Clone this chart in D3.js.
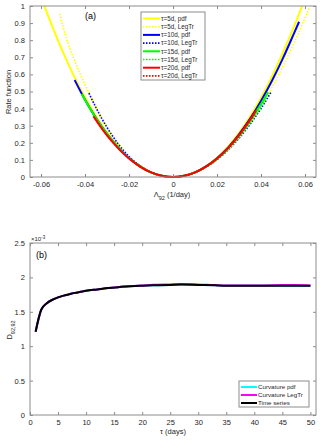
<!DOCTYPE html>
<html><head><meta charset="utf-8">
<script src="https://cdn.jsdelivr.net/npm/d3@7"></script>
<style>body{margin:0;background:#fff} svg{display:block} text{font-family:"Liberation Sans",Arial,sans-serif}</style>
</head><body><svg id="c" width="320" height="440"></svg>
<script>
// ---------- DATA: panel (a) ----------
const lamTicks = [-0.06,-0.04,-0.02,0,0.02,0.04,0.06];
const rateTicks = [0,0.1,0.2,0.3,0.4,0.5,0.6,0.7,0.8,0.9,1];
const legendA = ["τ=5d, pdf","τ=5d, LegTr","τ=10d, pdf","τ=10d, LegTr","τ=15d, pdf","τ=15d, LegTr","τ=20d, pdf","τ=20d, LegTr"];
const coloursA = ["#ffff00","#ffff00","#0000ff","#0000ff","#00ff00","#00ff00","#ff0000","#ff0000"];

const tau5pdf = [[-0.0585,1.0],[-0.055,0.885],[-0.05,0.73],[-0.045,0.59],[-0.04,0.465],[-0.035,0.355],[-0.03,0.26],[-0.025,0.18],[-0.02,0.114],[-0.015,0.064],[-0.01,0.028],[-0.005,0.007],[0,0],[0.005,0.007],[0.01,0.028],[0.015,0.064],[0.02,0.113],[0.025,0.178],[0.03,0.258],[0.035,0.352],[0.04,0.462],[0.045,0.588],[0.05,0.728],[0.055,0.88],[0.0587,1.0]];
const tau5leg = [[-0.0515,0.955],[-0.05,0.88],[-0.045,0.69],[-0.04,0.54],[-0.035,0.41],[-0.03,0.29],[-0.025,0.195],[-0.02,0.12],[-0.015,0.066],[-0.01,0.028],[-0.005,0.007],[0,0],[0.005,0.007],[0.01,0.027],[0.015,0.059],[0.02,0.104],[0.025,0.163],[0.03,0.234],[0.035,0.318],[0.04,0.415],[0.045,0.525],[0.05,0.648],[0.055,0.783],[0.06,0.93],[0.062,0.99]];
const tau10pdf = [[-0.0447,0.567],[-0.04,0.452],[-0.035,0.345],[-0.03,0.253],[-0.025,0.175],[-0.02,0.111],[-0.015,0.062],[-0.01,0.027],[-0.005,0.007],[0,0],[0.005,0.007],[0.01,0.027],[0.015,0.062],[0.02,0.11],[0.025,0.172],[0.03,0.25],[0.035,0.34],[0.04,0.445],[0.045,0.563],[0.05,0.695],[0.055,0.84],[0.0573,0.908]];
const tau10leg = [[-0.0382,0.49],[-0.035,0.405],[-0.03,0.29],[-0.025,0.195],[-0.02,0.12],[-0.015,0.066],[-0.01,0.028],[-0.005,0.007],[0,0],[0.005,0.006],[0.01,0.026],[0.015,0.058],[0.02,0.102],[0.025,0.158],[0.03,0.227],[0.035,0.308],[0.04,0.4],[0.0445,0.495]];
const tau15pdf = [[-0.0415,0.485],[-0.035,0.343],[-0.03,0.252],[-0.025,0.174],[-0.02,0.111],[-0.015,0.062],[-0.01,0.027],[-0.005,0.007],[0,0],[0.005,0.007],[0.01,0.027],[0.015,0.06],[0.02,0.106],[0.025,0.166],[0.03,0.24],[0.035,0.326],[0.04,0.425],[0.0432,0.495]];
const tau15leg = [[-0.0405,0.465],[-0.035,0.345],[-0.03,0.252],[-0.025,0.174],[-0.02,0.11],[-0.015,0.062],[-0.01,0.027],[-0.005,0.007],[0,0],[0.005,0.006],[0.01,0.026],[0.015,0.058],[0.02,0.103],[0.025,0.16],[0.03,0.231],[0.035,0.314],[0.04,0.41],[0.0425,0.462]];
const tau20pdf = [[-0.0362,0.355],[-0.035,0.332],[-0.03,0.243],[-0.025,0.169],[-0.02,0.108],[-0.015,0.061],[-0.01,0.027],[-0.005,0.007],[0,0],[0.005,0.007],[0.01,0.027],[0.015,0.061],[0.02,0.108],[0.025,0.169],[0.03,0.245],[0.035,0.335],[0.0378,0.39]];
const tau20leg = [[-0.0355,0.345],[-0.03,0.245],[-0.025,0.17],[-0.02,0.109],[-0.015,0.061],[-0.01,0.027],[-0.005,0.007],[0,0],[0.005,0.007],[0.01,0.027],[0.015,0.06],[0.02,0.106],[0.025,0.166],[0.03,0.24],[0.035,0.328],[0.0372,0.37]];
const seriesA = [tau5pdf,tau5leg,tau10pdf,tau10leg,tau15pdf,tau15leg,tau20pdf,tau20leg];

// ---------- DATA: panel (b) ----------
const tauTicks = [0,5,10,15,20,25,30,35,40,45,50];
const dTicks = [0,0.5,1,1.5,2,2.5];
const legendB = ["Curvature pdf","Curvature LegTr","Time series"];
const coloursB = ["#00ffff","#ff00ff","#000000"];
const tauVals = [1,2,3,4,5,6,7,8,9,10,12,14,16,18,20,22,25,27,30,33,35,38,40,42,45,47,50];
const curvPdf = [1.21,1.53,1.625,1.675,1.71,1.735,1.755,1.775,1.79,1.805,1.825,1.845,1.86,1.873,1.88,1.885,1.89,1.895,1.89,1.885,1.88,1.88,1.88,1.88,1.88,1.88,1.88];
const curvLeg = [1.21,1.53,1.625,1.675,1.71,1.735,1.755,1.775,1.79,1.805,1.825,1.845,1.862,1.876,1.883,1.892,1.898,1.903,1.898,1.888,1.884,1.883,1.882,1.884,1.888,1.889,1.884];
const timeSeries = [1.21,1.53,1.625,1.675,1.71,1.735,1.755,1.775,1.79,1.805,1.825,1.845,1.86,1.873,1.88,1.885,1.89,1.895,1.89,1.885,1.88,1.88,1.88,1.88,1.88,1.88,1.88];
const seriesB = [curvPdf,curvLeg,timeSeries];

// ---------- DRAW ----------
const svg = d3.select("#c");
const axisCol = "#8c8c8c", txtCol = "#262626";
const fmt = d => String(Math.round(d*1000)/1000);

function frame(x, y, xt, yt){
  const g = svg.append("g");
  const [x0,x1] = x.range(), [y0,y1] = y.range();
  g.append("g").attr("transform",`translate(0,${y0})`)
    .call(d3.axisBottom(x).tickValues(xt).tickSize(-3).tickPadding(5).tickFormat(fmt));
  g.append("g").attr("transform",`translate(0,${y1})`)
    .call(d3.axisTop(x).tickValues(xt).tickSize(-3).tickFormat(""));
  g.append("g").attr("transform",`translate(${x0},0)`)
    .call(d3.axisLeft(y).tickValues(yt).tickSize(-3).tickPadding(5).tickFormat(fmt));
  g.append("g").attr("transform",`translate(${x1},0)`)
    .call(d3.axisRight(y).tickValues(yt).tickSize(-3).tickFormat(""));
  g.selectAll(".domain").remove();
  g.selectAll(".tick line").attr("stroke",axisCol);
  g.selectAll(".tick text").attr("fill",txtCol).attr("font-size","7.5px").attr("font-family","Liberation Sans, Arial, sans-serif");
  g.append("rect").attr("x",x0).attr("y",y1).attr("width",x1-x0).attr("height",y0-y1)
    .attr("fill","none").attr("stroke",axisCol).attr("stroke-width",1);
  return g;
}

// Panel (a)
const xA = d3.scaleLinear().domain([-0.065,0.065]).range([30,316]);
const yA = d3.scaleLinear().domain([0,1]).range([177,6]);
const lineA = d3.line().x(d=>xA(d[0])).y(d=>yA(d[1])).curve(d3.curveMonotoneX);
const gA = svg.append("g");
seriesA.forEach((s,i)=>{
  gA.append("path").attr("d",lineA(s)).attr("fill","none").attr("stroke",coloursA[i])
    .attr("stroke-width", i%2===0 ? 2 : 1.6)
    .attr("stroke-dasharray", i%2===0 ? null : "1.5,1.5");
});
frame(xA,yA,lamTicks,rateTicks);

svg.append("text").attr("x",85).attr("y",19).attr("font-size","9px").attr("fill","#000").text("(a)");
svg.append("text").attr("transform","translate(11,92) rotate(-90)").attr("text-anchor","middle")
  .attr("font-size","7.5px").attr("fill",txtCol).text("Rate function");
const xl = svg.append("text").attr("x",172).attr("y",197).attr("text-anchor","middle").attr("font-size","7.5px").attr("fill",txtCol);
xl.append("tspan").text("Λ");
xl.append("tspan").attr("dy",3).attr("font-size","5.5px").text("92");
xl.append("tspan").attr("dy",-3).text(" (1/day)");

// legend (a)
const legA = svg.append("g");
legA.append("rect").attr("x",141).attr("y",12).attr("width",64).attr("height",68)
  .attr("fill","#fff").attr("stroke",axisCol).attr("stroke-width",1);
legendA.forEach((t,i)=>{
  const yy = 18.5 + i*8.2;
  legA.append("line").attr("x1",143).attr("x2",160).attr("y1",yy).attr("y2",yy)
    .attr("stroke",coloursA[i]).attr("stroke-width", i%2===0?2:1.6)
    .attr("stroke-dasharray", i%2===0 ? null : "1.5,1.5");
  legA.append("text").attr("x",161).attr("y",yy+2.3).attr("font-size","6.3px").attr("fill",txtCol).text(t);
});

// Panel (b)
const xB = d3.scaleLinear().domain([0,51]).range([30,316]);
const yB = d3.scaleLinear().domain([0,2.5]).range([415,243]);
const gB = svg.append("g");
seriesB.forEach((s,i)=>{
  const pts = tauVals.map((t,k)=>[t,s[k]]);
  gB.append("path").attr("d",d3.line().x(d=>xB(d[0])).y(d=>yB(d[1])).curve(d3.curveMonotoneX)(pts))
    .attr("fill","none").attr("stroke",coloursB[i]).attr("stroke-width",2);
});
frame(xB,yB,tauTicks,dTicks);

svg.append("text").attr("x",36).attr("y",258).attr("font-size","9px").attr("fill","#000").text("(b)");
const ex = svg.append("text").attr("x",31).attr("y",241).attr("font-size","6px").attr("fill",txtCol);
ex.append("tspan").text("×10");
ex.append("tspan").attr("dy",-2.5).attr("font-size","4.5px").text("-3");
const dl = svg.append("text").attr("transform","translate(12,330) rotate(-90)").attr("text-anchor","middle")
  .attr("font-size","7.5px").attr("fill",txtCol);
dl.append("tspan").text("D");
dl.append("tspan").attr("dy",3).attr("font-size","5.5px").text("92,92");
svg.append("text").attr("x",173).attr("y",434).attr("text-anchor","middle").attr("font-size","7.5px").attr("fill",txtCol).text("τ (days)");

// legend (b)
const legB = svg.append("g");
legB.append("rect").attr("x",239).attr("y",381).attr("width",70).attr("height",26)
  .attr("fill","#fff").attr("stroke",axisCol).attr("stroke-width",1);
legendB.forEach((t,i)=>{
  const yy = 387 + i*8;
  legB.append("line").attr("x1",241).attr("x2",257).attr("y1",yy).attr("y2",yy)
    .attr("stroke",coloursB[i]).attr("stroke-width",2);
  legB.append("text").attr("x",258).attr("y",yy+2.2).attr("font-size","6.2px").attr("fill",txtCol).text(t);
});
</script></body></html>
